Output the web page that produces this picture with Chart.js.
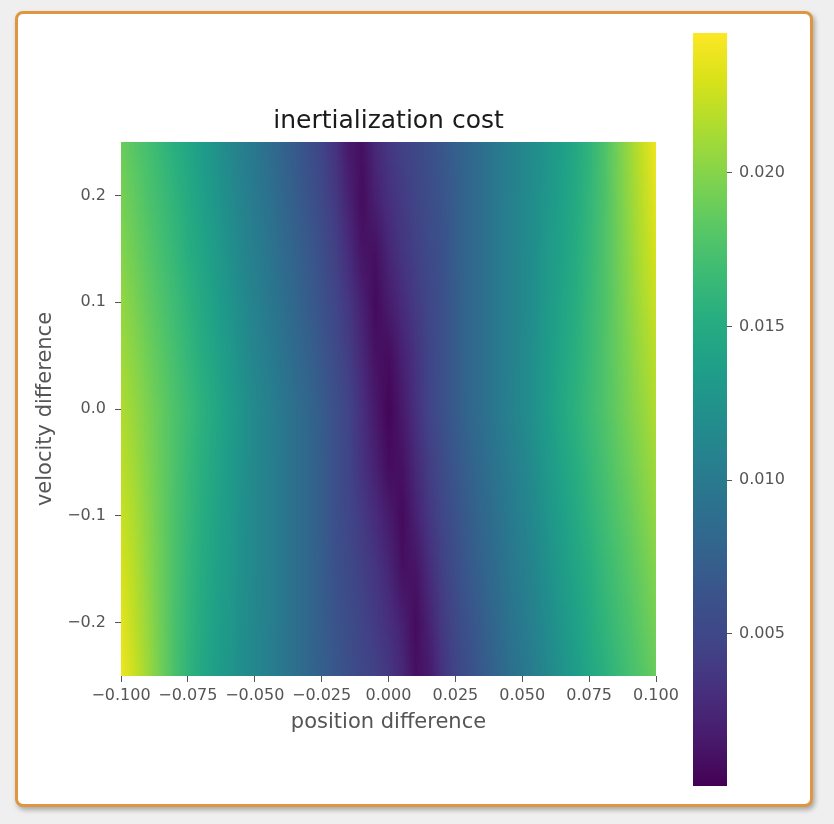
<!DOCTYPE html>
<html>
<head>
<meta charset="utf-8">
<title>inertialization cost</title>
<script src="https://cdn.jsdelivr.net/npm/chart.js@4.4.1/dist/chart.umd.min.js"></script>
<style>
    html, body { margin: 0; padding: 0; background: #efefef; }
    #page { position: relative; width: 834px; height: 824px; overflow: hidden; }
    #card {
        position: absolute; left: 15px; top: 11px; width: 798px; height: 796px;
        box-sizing: border-box; background: #ffffff;
        border: 3px solid #df9640; border-radius: 8px;
        box-shadow: 2px 3px 5px rgba(0, 0, 0, 0.3);
    }
    canvas { position: absolute; left: 0; top: 0; }
</style>
</head>
<body>
<div id="page">
    <div id="card"></div>
    <canvas id="heatCanvas" width="834" height="824"></canvas>
    <canvas id="barCanvas" width="834" height="824"></canvas>
</div>
<script>
/* ==========================================
   INERTIALIZATION COST - HEATMAP
   ========================================== */

// Grid columns (position difference) and rows (velocity difference, top to bottom)
const posValues = [-0.100, -0.095, -0.090, -0.085, -0.080, -0.075, -0.070, -0.065, -0.060, -0.055,
    -0.050, -0.045, -0.040, -0.035, -0.030, -0.025, -0.020, -0.015, -0.010, -0.005, 0.000,
    0.005, 0.010, 0.015, 0.020, 0.025, 0.030, 0.035, 0.040, 0.045, 0.050,
    0.055, 0.060, 0.065, 0.070, 0.075, 0.080, 0.085, 0.090, 0.095, 0.100];
const velValues = [0.25, 0.20, 0.15, 0.10, 0.05, 0.00, -0.05, -0.10, -0.15, -0.20, -0.25];

// Cost per row, one value per position column
const costVelP25 = [0.0189, 0.0180, 0.0172, 0.0163, 0.0154, 0.0145, 0.0135, 0.0125, 0.0115, 0.0105, 0.0097, 0.0088, 0.0078, 0.0069, 0.0059, 0.0048, 0.0034, 0.0015, 0.0010, 0.0027, 0.0038, 0.0045, 0.0051, 0.0059, 0.0066, 0.0074, 0.0081, 0.0089, 0.0098, 0.0105, 0.0113, 0.0120, 0.0129, 0.0137, 0.0147, 0.0159, 0.0174, 0.0191, 0.0208, 0.0225, 0.0240];
const costVelP20 = [0.0194, 0.0185, 0.0176, 0.0168, 0.0159, 0.0149, 0.0139, 0.0129, 0.0119, 0.0109, 0.0100, 0.0092, 0.0082, 0.0073, 0.0063, 0.0052, 0.0039, 0.0022, 0.0007, 0.0021, 0.0032, 0.0040, 0.0048, 0.0056, 0.0064, 0.0073, 0.0081, 0.0089, 0.0098, 0.0106, 0.0113, 0.0121, 0.0130, 0.0139, 0.0149, 0.0161, 0.0174, 0.0190, 0.0206, 0.0221, 0.0235];
const costVelP15 = [0.0199, 0.0190, 0.0181, 0.0172, 0.0163, 0.0153, 0.0144, 0.0134, 0.0123, 0.0113, 0.0104, 0.0096, 0.0086, 0.0077, 0.0068, 0.0057, 0.0044, 0.0029, 0.0012, 0.0010, 0.0025, 0.0036, 0.0044, 0.0053, 0.0061, 0.0073, 0.0081, 0.0089, 0.0098, 0.0106, 0.0114, 0.0122, 0.0132, 0.0141, 0.0151, 0.0162, 0.0175, 0.0189, 0.0203, 0.0218, 0.0230];
const costVelP10 = [0.0205, 0.0196, 0.0186, 0.0177, 0.0168, 0.0158, 0.0148, 0.0138, 0.0128, 0.0117, 0.0108, 0.0099, 0.0090, 0.0081, 0.0072, 0.0062, 0.0050, 0.0037, 0.0021, 0.0006, 0.0017, 0.0029, 0.0040, 0.0050, 0.0060, 0.0072, 0.0081, 0.0089, 0.0098, 0.0106, 0.0114, 0.0123, 0.0133, 0.0143, 0.0153, 0.0164, 0.0175, 0.0188, 0.0201, 0.0214, 0.0225];
const costVelP05 = [0.0210, 0.0201, 0.0191, 0.0182, 0.0172, 0.0162, 0.0152, 0.0143, 0.0132, 0.0121, 0.0111, 0.0103, 0.0094, 0.0085, 0.0076, 0.0066, 0.0055, 0.0042, 0.0027, 0.0011, 0.0007, 0.0021, 0.0034, 0.0048, 0.0060, 0.0072, 0.0081, 0.0089, 0.0098, 0.0106, 0.0115, 0.0124, 0.0135, 0.0145, 0.0155, 0.0165, 0.0176, 0.0187, 0.0198, 0.0210, 0.0220];
const costVel0 = [0.0216, 0.0206, 0.0196, 0.0186, 0.0176, 0.0167, 0.0157, 0.0147, 0.0136, 0.0125, 0.0115, 0.0107, 0.0098, 0.0089, 0.0081, 0.0071, 0.0060, 0.0047, 0.0032, 0.0016, 0.0003, 0.0016, 0.0032, 0.0047, 0.0060, 0.0071, 0.0081, 0.0089, 0.0098, 0.0107, 0.0115, 0.0125, 0.0136, 0.0147, 0.0157, 0.0167, 0.0176, 0.0186, 0.0196, 0.0206, 0.0216];
const costVelM05 = [0.0220, 0.0210, 0.0198, 0.0187, 0.0176, 0.0165, 0.0155, 0.0145, 0.0135, 0.0124, 0.0115, 0.0106, 0.0098, 0.0089, 0.0081, 0.0072, 0.0060, 0.0048, 0.0034, 0.0021, 0.0007, 0.0011, 0.0027, 0.0042, 0.0055, 0.0066, 0.0076, 0.0085, 0.0094, 0.0103, 0.0111, 0.0121, 0.0132, 0.0143, 0.0152, 0.0162, 0.0172, 0.0182, 0.0191, 0.0201, 0.0210];
const costVelM10 = [0.0225, 0.0214, 0.0201, 0.0188, 0.0175, 0.0164, 0.0153, 0.0143, 0.0133, 0.0123, 0.0114, 0.0106, 0.0098, 0.0089, 0.0081, 0.0072, 0.0060, 0.0050, 0.0040, 0.0029, 0.0017, 0.0006, 0.0021, 0.0037, 0.0050, 0.0062, 0.0072, 0.0081, 0.0090, 0.0099, 0.0108, 0.0117, 0.0128, 0.0138, 0.0148, 0.0158, 0.0168, 0.0177, 0.0186, 0.0196, 0.0205];
const costVelM15 = [0.0230, 0.0218, 0.0203, 0.0189, 0.0175, 0.0162, 0.0151, 0.0141, 0.0132, 0.0122, 0.0114, 0.0106, 0.0098, 0.0089, 0.0081, 0.0073, 0.0061, 0.0053, 0.0044, 0.0036, 0.0025, 0.0010, 0.0012, 0.0029, 0.0044, 0.0057, 0.0068, 0.0077, 0.0086, 0.0096, 0.0104, 0.0113, 0.0123, 0.0134, 0.0144, 0.0153, 0.0163, 0.0172, 0.0181, 0.0190, 0.0199];
const costVelM20 = [0.0235, 0.0221, 0.0206, 0.0190, 0.0174, 0.0161, 0.0149, 0.0139, 0.0130, 0.0121, 0.0113, 0.0106, 0.0098, 0.0089, 0.0081, 0.0073, 0.0064, 0.0056, 0.0048, 0.0040, 0.0032, 0.0021, 0.0007, 0.0022, 0.0039, 0.0052, 0.0063, 0.0073, 0.0082, 0.0092, 0.0100, 0.0109, 0.0119, 0.0129, 0.0139, 0.0149, 0.0159, 0.0168, 0.0176, 0.0185, 0.0194];
const costVelM25 = [0.0240, 0.0225, 0.0208, 0.0191, 0.0174, 0.0159, 0.0147, 0.0137, 0.0129, 0.0120, 0.0113, 0.0105, 0.0098, 0.0089, 0.0081, 0.0074, 0.0066, 0.0059, 0.0051, 0.0045, 0.0038, 0.0027, 0.0010, 0.0015, 0.0034, 0.0048, 0.0059, 0.0069, 0.0078, 0.0088, 0.0097, 0.0105, 0.0115, 0.0125, 0.0135, 0.0145, 0.0154, 0.0163, 0.0172, 0.0180, 0.0189];

const costRows = [costVelP25, costVelP20, costVelP15, costVelP10, costVelP05, costVel0,
    costVelM05, costVelM10, costVelM15, costVelM20, costVelM25];

// Tick labels
const posTicks = [-0.100, -0.075, -0.050, -0.025, 0.000, 0.025, 0.050, 0.075, 0.100];
const velTicks = [-0.2, -0.1, 0.0, 0.1, 0.2];
const colorbarTicks = [0.005, 0.010, 0.015, 0.020];

// Colour scale limits
const costMin = 0.00005;
const costMax = 0.02455;

// Viridis colormap stops
const viridisStops = ['#440154', '#481a6c', '#472f7d', '#414487', '#3b528b', '#33638d', '#2c728e',
    '#26828e', '#21918c', '#1fa088', '#28ae80', '#3fbc73', '#5ec962', '#84d44b', '#addc30',
    '#d8e219', '#fde725'];

const FONT = 'DejaVu Sans';
const TICK_COLOR = '#555555';

function hexToRgb(hex) {
    const n = parseInt(hex.slice(1), 16);
    return [(n >> 16) & 255, (n >> 8) & 255, n & 255];
}

const viridisRgb = viridisStops.map(hexToRgb);

function viridis(t) {
    t = Math.min(1, Math.max(0, t));
    const pos = t * (viridisRgb.length - 1);
    const i = Math.min(viridisRgb.length - 2, Math.floor(pos));
    const f = pos - i;
    const a = viridisRgb[i];
    const b = viridisRgb[i + 1];
    return [0, 1, 2].map(k => Math.round(a[k] + (b[k] - a[k]) * f));
}

function formatTick(value, digits) {
    const text = Math.abs(value).toFixed(digits);
    return value < 0 ? '\u2212' + text : text;
}

// One data point per grid cell
const cells = [];
velValues.forEach((vel, row) => {
    posValues.forEach((pos, col) => {
        cells.push({ x: pos, y: vel, v: costRows[row][col], row: row, col: col });
    });
});

// Paints the grid cells as a smoothed image placed through the chart scales
const heatmapPlugin = {
    id: 'heatmap',
    beforeDatasetsDraw(chart) {
        const { ctx, chartArea, scales } = chart;
        const points = chart.data.datasets[0].data;
        const nx = posValues.length;
        const ny = velValues.length;

        const off = document.createElement('canvas');
        off.width = nx;
        off.height = ny;
        const octx = off.getContext('2d');
        const img = octx.createImageData(nx, ny);
        points.forEach(p => {
            const rgb = viridis((p.v - costMin) / (costMax - costMin));
            const idx = (p.row * nx + p.col) * 4;
            img.data[idx] = rgb[0];
            img.data[idx + 1] = rgb[1];
            img.data[idx + 2] = rgb[2];
            img.data[idx + 3] = 255;
        });
        octx.putImageData(img, 0, 0);

        const halfX = (posValues[1] - posValues[0]) / 2;
        const halfY = (velValues[0] - velValues[1]) / 2;
        const left = scales.x.getPixelForValue(posValues[0] - halfX);
        const right = scales.x.getPixelForValue(posValues[nx - 1] + halfX);
        const top = scales.y.getPixelForValue(velValues[0] + halfY);
        const bottom = scales.y.getPixelForValue(velValues[ny - 1] - halfY);

        ctx.save();
        ctx.beginPath();
        ctx.rect(chartArea.left, chartArea.top, chartArea.right - chartArea.left, chartArea.bottom - chartArea.top);
        ctx.clip();
        ctx.imageSmoothingEnabled = true;
        ctx.imageSmoothingQuality = 'low';
        ctx.drawImage(off, left, top, right - left, bottom - top);
        ctx.restore();
    }
};

// Fills the colour bar using its own value axis
const colorbarPlugin = {
    id: 'colorbar',
    beforeDatasetsDraw(chart) {
        const { ctx, chartArea, scales } = chart;
        const y0 = scales.y.getPixelForValue(costMin);
        const y1 = scales.y.getPixelForValue(costMax);
        const grad = ctx.createLinearGradient(0, y0, 0, y1);
        viridisStops.forEach((c, i) => grad.addColorStop(i / (viridisStops.length - 1), c));
        ctx.save();
        ctx.fillStyle = grad;
        ctx.fillRect(chartArea.left, y1, chartArea.right - chartArea.left, y0 - y1);
        ctx.restore();
    }
};

function tickGrid() {
    return {
        drawOnChartArea: false,
        drawTicks: true,
        tickLength: 6,
        tickColor: TICK_COLOR,
        tickWidth: 1
    };
}

function initHeatmap() {
    new Chart(document.getElementById('heatCanvas'), {
        type: 'scatter',
        data: {
            datasets: [{
                data: cells,
                pointRadius: 0,
                pointHoverRadius: 0
            }]
        },
        options: {
            responsive: false,
            animation: false,
            events: [],
            layout: {
                padding: { left: 33, top: 0, right: 178, bottom: 89 }
            },
            plugins: {
                legend: { display: false },
                tooltip: { enabled: false },
                title: {
                    display: true,
                    fullSize: false,
                    text: 'inertialization cost',
                    color: '#1a1a1a',
                    font: { family: FONT, size: 25, weight: 'normal', lineHeight: 1.2 },
                    padding: { top: 106, bottom: 6 }
                }
            },
            scales: {
                x: {
                    type: 'linear',
                    min: -0.1,
                    max: 0.1,
                    afterBuildTicks: scale => { scale.ticks = posTicks.map(v => ({ value: v })); },
                    afterFit: scale => { scale.height = 59; },
                    grid: tickGrid(),
                    border: { display: false },
                    ticks: {
                        padding: 4,
                        color: TICK_COLOR,
                        autoSkip: false,
                        maxRotation: 0,
                        font: { family: FONT, size: 16 },
                        callback: value => formatTick(value, 3)
                    },
                    title: {
                        display: true,
                        text: 'position difference',
                        color: TICK_COLOR,
                        padding: 0,
                        font: { family: FONT, size: 21, lineHeight: 1.2 }
                    }
                },
                y: {
                    type: 'linear',
                    min: -0.25,
                    max: 0.25,
                    afterBuildTicks: scale => { scale.ticks = velTicks.map(v => ({ value: v })); },
                    afterFit: scale => { scale.width = 88; },
                    grid: tickGrid(),
                    border: { display: false },
                    ticks: {
                        padding: 9,
                        color: TICK_COLOR,
                        autoSkip: false,
                        font: { family: FONT, size: 16 },
                        callback: value => formatTick(value, 1)
                    },
                    title: {
                        display: true,
                        text: 'velocity difference',
                        color: TICK_COLOR,
                        padding: 0,
                        font: { family: FONT, size: 21, lineHeight: 1.2 }
                    }
                }
            }
        },
        plugins: [heatmapPlugin]
    });
}

function initColorbar() {
    new Chart(document.getElementById('barCanvas'), {
        type: 'scatter',
        data: { datasets: [] },
        options: {
            responsive: false,
            animation: false,
            events: [],
            layout: {
                padding: { left: 693, top: 33, right: 47, bottom: 38 }
            },
            plugins: {
                legend: { display: false },
                tooltip: { enabled: false }
            },
            scales: {
                x: { type: 'linear', display: false, min: 0, max: 1 },
                y: {
                    type: 'linear',
                    position: 'right',
                    min: costMin,
                    max: costMax,
                    afterBuildTicks: scale => { scale.ticks = colorbarTicks.map(v => ({ value: v })); },
                    afterFit: scale => { scale.width = 60; },
                    grid: Object.assign(tickGrid(), { tickLength: 5 }),
                    border: { display: false },
                    ticks: {
                        padding: 7,
                        color: TICK_COLOR,
                        autoSkip: false,
                        font: { family: FONT, size: 16 },
                        callback: value => value.toFixed(3)
                    }
                }
            }
        },
        plugins: [colorbarPlugin]
    });
}

initHeatmap();
initColorbar();
</script>
</body>
</html>
